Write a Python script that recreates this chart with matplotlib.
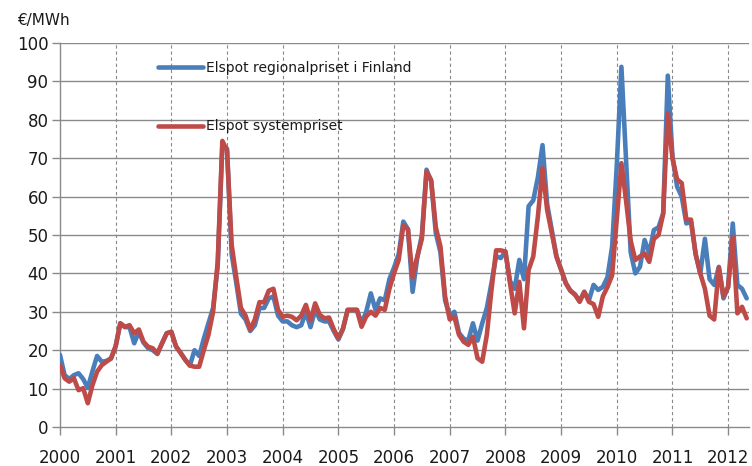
import numpy as np
import matplotlib
matplotlib.use("Agg")
import matplotlib.pyplot as plt

# Monthly prices, Jan 2000 - May 2012 (EUR/MWh)
finland = [
    18.8, 13.5, 12.5, 13.5, 14.0, 12.5, 10.2, 14.5, 18.5, 17.0, 17.2, 17.8,   # 2000
    21.0, 27.0, 26.0, 26.0, 21.8, 24.8, 22.0, 20.5, 20.0, 19.0, 21.8, 24.4,   # 2001
    24.8, 21.0, 19.3, 17.5, 16.0, 20.0, 18.5, 23.0, 27.0, 31.0, 42.0, 73.5,   # 2002
    72.5, 45.0, 37.5, 29.5, 28.0, 25.0, 26.5, 31.0, 31.0, 33.5, 34.0, 29.0,   # 2003
    27.5, 27.5, 26.5, 26.0, 26.5, 30.0, 26.0, 30.5, 28.0, 27.5, 27.5, 25.0,   # 2004
    22.8, 25.5, 30.5, 30.5, 30.5, 27.0, 30.0, 34.8, 30.5, 33.5, 33.0, 38.5,   # 2005
    41.5, 45.0, 53.5, 51.5, 35.2, 44.0, 50.0, 67.0, 64.0, 50.5, 45.5, 33.0,   # 2006
    29.0, 30.0, 24.5, 23.0, 22.5, 27.0, 22.5, 27.0, 31.0, 37.5, 44.5, 44.0,   # 2007
    45.7, 38.0, 36.0, 43.5, 38.5, 57.5, 59.0, 65.0, 73.4, 58.0, 51.3, 44.4,   # 2008
    41.0, 37.5, 35.5, 34.5, 32.8, 35.2, 33.0, 37.0, 35.7, 36.5, 39.0, 47.0,   # 2009
    68.0, 93.8, 69.5, 45.5, 40.0, 41.7, 48.7, 45.2, 51.3, 52.0, 55.6, 91.5,   # 2010
    70.5, 62.6, 60.0, 53.0, 53.5, 45.0, 40.0, 49.0, 38.5, 37.0, 41.7, 33.5,   # 2011
    36.5, 53.0, 37.0, 36.0, 33.5,                                             # 2012
]
system = [
    16.1, 12.7, 11.8, 12.7, 9.6, 10.1, 6.2, 10.9, 14.4, 16.1, 17.0, 17.9,     # 2000
    21.0, 27.0, 26.1, 26.5, 24.4, 25.4, 22.2, 20.9, 20.5, 19.2, 21.8, 24.4,   # 2001
    24.8, 21.0, 19.3, 17.5, 16.0, 15.7, 15.7, 20.0, 24.0, 30.0, 43.0, 74.5,   # 2002
    72.0, 47.5, 39.0, 31.0, 29.0, 25.3, 28.0, 32.5, 32.5, 35.5, 36.0, 30.5,   # 2003
    28.7, 29.0, 28.7, 27.8, 29.0, 31.8, 27.8, 32.2, 29.2, 28.3, 28.5, 25.5,   # 2004
    23.1, 25.7, 30.5, 30.5, 30.5, 26.1, 28.8, 30.0, 29.0, 31.0, 30.5, 36.0,   # 2005
    40.0, 43.5, 52.5, 51.5, 39.0, 44.4, 49.0, 66.5, 64.3, 52.0, 47.0, 34.0,   # 2006
    28.0, 28.7, 24.0, 22.2, 21.4, 23.5, 17.9, 17.0, 24.0, 35.7, 46.0, 46.0,   # 2007
    45.7, 37.4, 29.6, 37.8, 25.7, 40.9, 44.4, 54.8, 67.4, 56.5, 50.4, 44.4,   # 2008
    41.0, 37.5, 35.5, 34.5, 32.6, 35.2, 32.6, 32.0, 28.7, 34.0, 36.5, 39.5,   # 2009
    54.0, 68.7, 59.0, 48.5, 43.5, 44.4, 45.2, 43.0, 49.0, 50.0, 55.5, 81.7,   # 2010
    70.0, 64.5, 63.5, 54.0, 54.0, 45.0, 40.0, 36.0, 29.0, 28.0, 41.5, 34.0,   # 2011
    36.5, 49.5, 29.6, 31.3, 28.3,                                             # 2012
]
year_labels = [str(y) for y in range(2000, 2013)]
y_ticks = list(range(0, 101, 10))
series_names = ["Elspot regionalpriset i Finland", "Elspot systempriset"]
unit_label = "€/MWh"

W, H = 752, 466
fig = plt.figure(figsize=(W / 100, H / 100), dpi=100)
ax = fig.add_axes([59.5 / W, 1 - 427 / H, (749 - 59.5) / W, (427 - 43) / H])

months = np.arange(len(finland))
grid_c = "#8a8a8a"

ax.plot(months, finland, color="#4a7ebb", lw=3.3, solid_joinstyle="round",
        solid_capstyle="round", label=series_names[0], zorder=3)
ax.plot(months, system, color="#be4b48", lw=3.3, solid_joinstyle="round",
        solid_capstyle="round", label=series_names[1], zorder=4)

ax.set_ylim(0, 100)
ax.set_xlim(-0.1, 148.5)
ax.set_yticks(y_ticks)
ax.set_xticks(np.arange(len(year_labels)) * 12)
ax.set_xticklabels(year_labels)

for v in y_ticks[1:]:
    ax.axhline(v, color=grid_c, lw=1.0, zorder=1)
for xv in ax.get_xticks():
    if xv > 0:
        ax.axvline(xv, color=grid_c, lw=0.8, ls=(0, (3, 2.5)), zorder=1)

for s in ["top", "right"]:
    ax.spines[s].set_visible(False)
for s in ["left", "bottom"]:
    ax.spines[s].set_color(grid_c)
    ax.spines[s].set_linewidth(1.0)

ax.tick_params(axis="y", direction="out", length=5.5, width=1.0, color=grid_c,
               pad=2.5, labelsize=12, labelcolor="#1a1a1a")
ax.tick_params(axis="x", direction="out", length=5.5, width=1.0, color=grid_c,
               pad=10.5, labelsize=12, labelcolor="#1a1a1a")

fig.text(17 / W, 1 - 21 / H, unit_label, fontsize=11, color="#1a1a1a",
         ha="left", va="center")

ax.legend(loc="upper left", bbox_to_anchor=(158 / W, 1 - 61 / H),
          bbox_transform=fig.transFigure, frameon=False, borderpad=0,
          borderaxespad=0, handlelength=3.24, handletextpad=0.25,
          labelspacing=3.2, fontsize=10, labelcolor="#1a1a1a")

fig.savefig("out.png", dpi=100)
